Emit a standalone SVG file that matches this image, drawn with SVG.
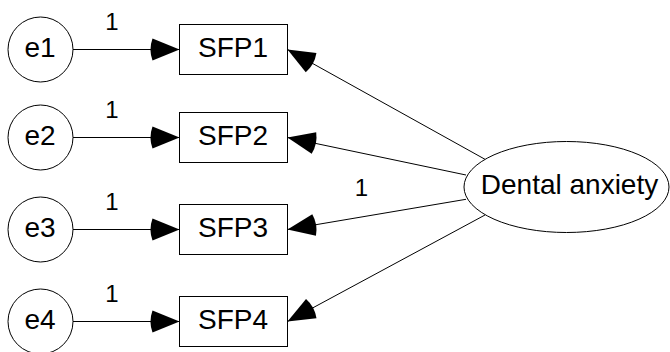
<svg xmlns="http://www.w3.org/2000/svg" width="670" height="352" viewBox="0 0 670 352">
  <style>
    .shape { fill: #ffffff; stroke: #000000; stroke-width: 1; }
    .path { fill: none; stroke: #000000; stroke-width: 1; marker-end: url(#head); }
    .label { font-family: "Liberation Sans", Arial, sans-serif; font-size: 28px; fill: #000000; text-anchor: middle; }
    .weight { font-family: "Liberation Sans", Arial, sans-serif; font-size: 24px; fill: #000000; text-anchor: middle; }
  </style>
  <defs>
    <!-- filled arrowhead with a slightly rounded back -->
    <marker id="head" markerUnits="userSpaceOnUse" viewBox="-32 -12 33 24" markerWidth="33" markerHeight="24" refX="0" refY="0" orient="auto">
      <path d="M0,0 L-27,-11 Q-31,0 -27,11 Z" fill="#000000"/>
    </marker>
  </defs>

  <rect width="670" height="352" fill="#ffffff"/>

  <!-- connectors -->
  <g id="connectors">
    <line class="path" x1="73" y1="49.5" x2="179.5" y2="49.5"/>
    <line class="path" x1="73" y1="137.5" x2="179.5" y2="137.5"/>
    <line class="path" x1="73" y1="229.5" x2="179.5" y2="229.5"/>
    <line class="path" x1="73" y1="321.5" x2="179.5" y2="321.5"/>
    <line class="path" x1="485" y1="159.3" x2="287.5" y2="49.5"/>
    <line class="path" x1="466" y1="175" x2="287.5" y2="137.5"/>
    <line class="path" x1="466" y1="199.3" x2="287.5" y2="229.5"/>
    <line class="path" x1="485" y1="215" x2="287.5" y2="321.5"/>
    <text class="weight" x="112" y="30">1</text>
    <text class="weight" x="112" y="118">1</text>
    <text class="weight" x="112" y="210">1</text>
    <text class="weight" x="112" y="302">1</text>
    <text class="weight" x="361.5" y="196">1</text>
  </g>

  <!-- error terms -->
  <g id="e1">
    <circle class="shape" cx="40.5" cy="49.5" r="32.5"/>
    <text class="label" x="40" y="57">e1</text>
  </g>
  <g id="e2">
    <circle class="shape" cx="40.5" cy="137.5" r="32.5"/>
    <text class="label" x="40" y="145">e2</text>
  </g>
  <g id="e3">
    <circle class="shape" cx="40.5" cy="229.5" r="32.5"/>
    <text class="label" x="40" y="237">e3</text>
  </g>
  <g id="e4">
    <circle class="shape" cx="40.5" cy="321.5" r="32.5"/>
    <text class="label" x="40" y="329">e4</text>
  </g>

  <!-- observed indicators -->
  <g id="SFP1">
    <rect class="shape" x="179.5" y="24.5" width="108" height="50"/>
    <text class="label" x="233" y="57">SFP1</text>
  </g>
  <g id="SFP2">
    <rect class="shape" x="179.5" y="112.5" width="108" height="50"/>
    <text class="label" x="233" y="145">SFP2</text>
  </g>
  <g id="SFP3">
    <rect class="shape" x="179.5" y="204.5" width="108" height="50"/>
    <text class="label" x="233" y="237">SFP3</text>
  </g>
  <g id="SFP4">
    <rect class="shape" x="179.5" y="296.5" width="108" height="50"/>
    <text class="label" x="233" y="329">SFP4</text>
  </g>

  <!-- latent factor -->
  <g id="dental-anxiety">
    <ellipse class="shape" cx="566.5" cy="187" rx="102.5" ry="45.5"/>
    <text class="label" x="569.5" y="193.5">Dental anxiety</text>
  </g>
</svg>
